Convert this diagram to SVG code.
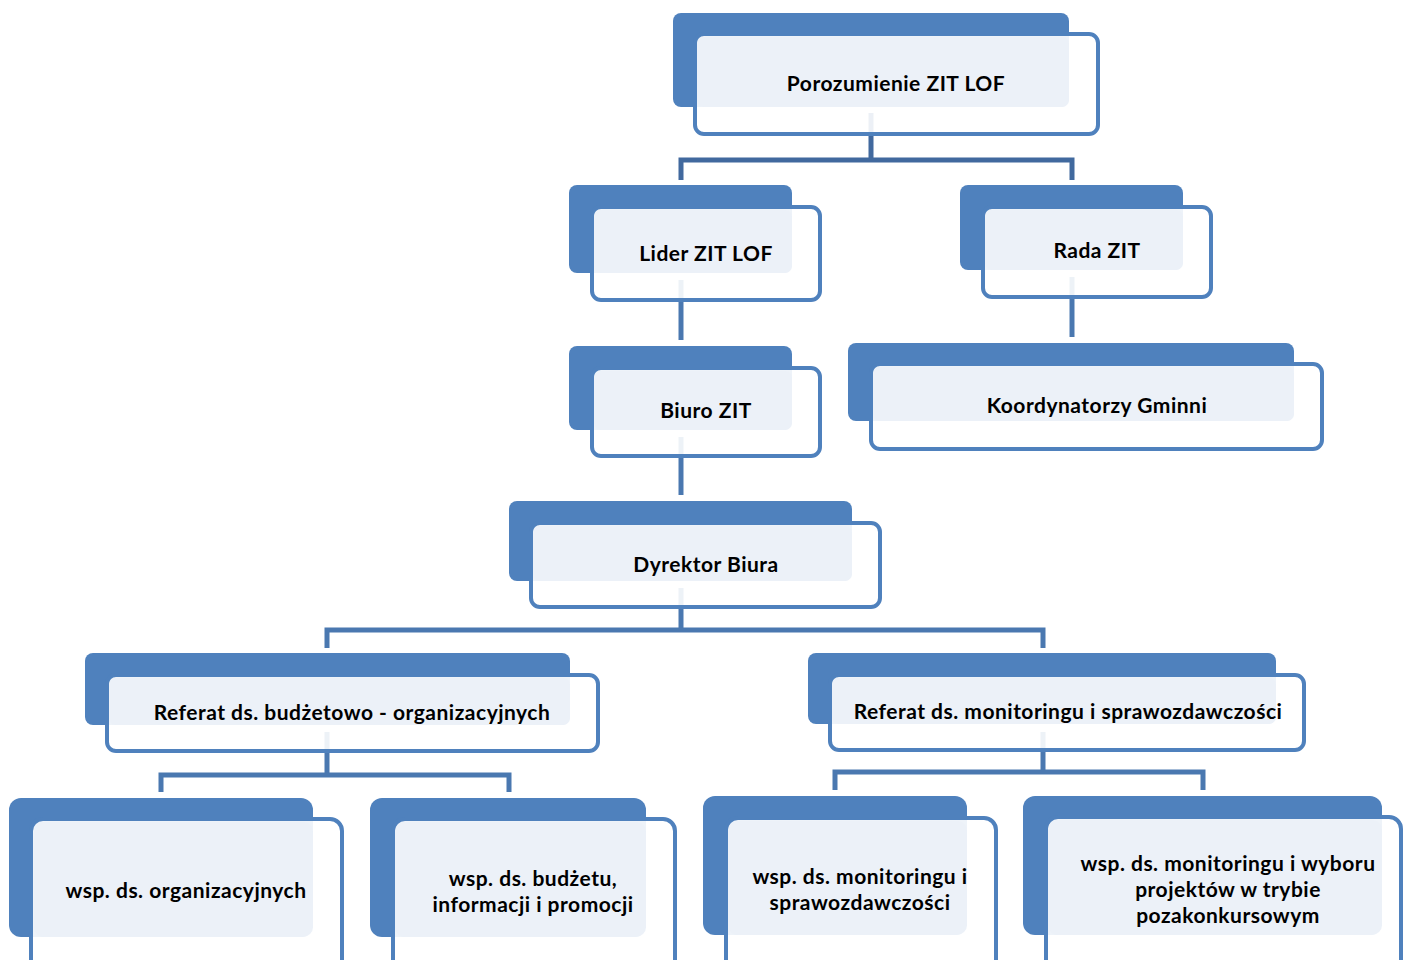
<svg xmlns="http://www.w3.org/2000/svg" width="1403" height="960" viewBox="0 0 1403 960">
<style>
.back{fill:#4F81BD}
.frame{fill:#FFFFFF;fill-opacity:0.9;stroke:#4F81BD;stroke-width:4}
.panel{fill:#EBF0F8;fill-opacity:0.95}
.t{font-family:Lato,"Open Sans",sans-serif;font-weight:bold;font-size:21px;letter-spacing:0.5px;fill:#000;text-anchor:middle}
.c{fill:none;stroke:#4A78B0;stroke-width:5}
.c0{fill:none;stroke:#41699E;stroke-width:5}
</style>
<rect width="1403" height="960" fill="#FFFFFF"/>
<g id="connectors">
<path class="c0" d="M871,113 V160 M681,180 V160 H1072 V180"/>
<path class="c" d="M681,280 V340"/>
<path class="c" d="M1072,277 V337"/>
<path class="c" d="M681,437 V495"/>
<path class="c" d="M681,588 V630 M327,648 V630 H1043 V648"/>
<path class="c" d="M327,732 V775 M161,792 V775 H509 V792"/>
<path class="c" d="M1043,732 V772 M835,790 V772 H1203 V790"/>
</g>
<g id="n1">
<rect class="back" x="673" y="13" width="396" height="94" rx="8"/>
<rect class="frame" x="695" y="34" width="403" height="100" rx="9"/>
<rect class="panel" x="697" y="37" width="372" height="70" rx="7"/>
<text class="t" x="896" y="91">Porozumienie ZIT LOF</text>
</g>
<g id="n2">
<rect class="back" x="569" y="185" width="223" height="88" rx="8"/>
<rect class="frame" x="592" y="207" width="228" height="93" rx="9"/>
<rect class="panel" x="594" y="210" width="198" height="63" rx="7"/>
<text class="t" x="706" y="261">Lider ZIT LOF</text>
</g>
<g id="n3">
<rect class="back" x="960" y="185" width="223" height="85" rx="8"/>
<rect class="frame" x="983" y="207" width="228" height="90" rx="9"/>
<rect class="panel" x="985" y="210" width="198" height="60" rx="7"/>
<text class="t" x="1097" y="258">Rada ZIT</text>
</g>
<g id="n4">
<rect class="back" x="569" y="346" width="223" height="84" rx="8"/>
<rect class="frame" x="592" y="368" width="228" height="88" rx="9"/>
<rect class="panel" x="594" y="371" width="198" height="59" rx="7"/>
<text class="t" x="706" y="418">Biuro ZIT</text>
</g>
<g id="n5">
<rect class="back" x="848" y="343" width="446" height="78" rx="8"/>
<rect class="frame" x="871" y="364" width="451" height="85" rx="9"/>
<rect class="panel" x="873" y="367" width="421" height="54" rx="7"/>
<text class="t" x="1097" y="413">Koordynatorzy Gminni</text>
</g>
<g id="n6">
<rect class="back" x="509" y="501" width="343" height="80" rx="8"/>
<rect class="frame" x="531" y="523" width="349" height="84" rx="9"/>
<rect class="panel" x="533" y="526" width="319" height="55" rx="7"/>
<text class="t" x="706" y="572">Dyrektor Biura</text>
</g>
<g id="n7">
<rect class="back" x="85" y="653" width="485" height="72" rx="8"/>
<rect class="frame" x="107" y="675" width="491" height="76" rx="9"/>
<rect class="panel" x="109" y="678" width="461" height="47" rx="7"/>
<text class="t" x="352" y="720">Referat ds. budżetowo - organizacyjnych</text>
</g>
<g id="n8">
<rect class="back" x="808" y="653" width="468" height="71" rx="8"/>
<rect class="frame" x="830" y="675" width="474" height="75" rx="9"/>
<rect class="panel" x="832" y="678" width="444" height="46" rx="7"/>
<text class="t" x="1068" y="719">Referat ds. monitoringu i sprawozdawczości</text>
</g>
<g id="n9">
<rect class="back" x="9" y="798" width="304" height="139" rx="12"/>
<rect class="frame" x="31" y="819" width="311" height="160" rx="12"/>
<rect class="panel" x="34" y="822" width="279" height="115" rx="10"/>
<text class="t" x="186" y="898">wsp. ds. organizacyjnych</text>
</g>
<g id="n10">
<rect class="back" x="370" y="798" width="276" height="139" rx="12"/>
<rect class="frame" x="393" y="819" width="282" height="160" rx="12"/>
<rect class="panel" x="395" y="822" width="251" height="115" rx="10"/>
<text class="t" x="533" y="886">wsp. ds. budżetu,</text>
<text class="t" x="533" y="912">informacji i promocji</text>
</g>
<g id="n11">
<rect class="back" x="703" y="796" width="264" height="139" rx="12"/>
<rect class="frame" x="726" y="818" width="270" height="160" rx="12"/>
<rect class="panel" x="728" y="821" width="239" height="114" rx="10"/>
<text class="t" x="860" y="884">wsp. ds. monitoringu i</text>
<text class="t" x="860" y="910">sprawozdawczości</text>
</g>
<g id="n12">
<rect class="back" x="1023" y="796" width="359" height="139" rx="12"/>
<rect class="frame" x="1046" y="817" width="355" height="160" rx="12"/>
<rect class="panel" x="1048" y="820" width="334" height="115" rx="10"/>
<text class="t" x="1228" y="871">wsp. ds. monitoringu i wyboru</text>
<text class="t" x="1228" y="897">projektów w trybie</text>
<text class="t" x="1228" y="923">pozakonkursowym</text>
</g>
</svg>
